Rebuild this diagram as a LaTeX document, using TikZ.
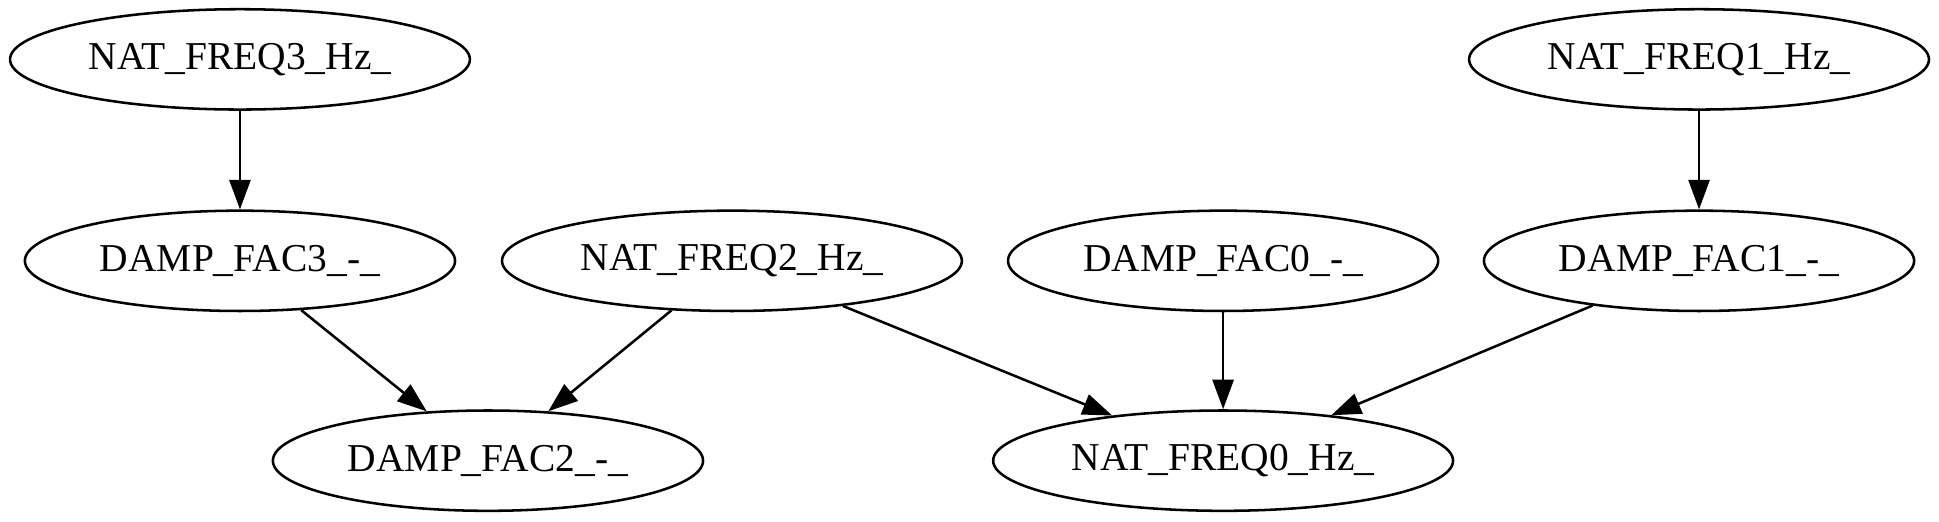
\documentclass[tikz,border=0pt]{standalone}
\usepackage{fontspec}
\setmainfont{Liberation Serif}
\usetikzlibrary{shapes.geometric,arrows.meta}
\tikzset{
  varnode/.style={draw,ellipse,line width=0.9pt,inner sep=0pt,minimum height=1.25cm,font=\fontsize{14}{17}\selectfont},
  freqnode/.style={varnode,minimum width=5.73cm},
  dampnode/.style={varnode,minimum width=5.36cm},
  link/.style={line width=0.9pt,-{Triangle[length=10.5pt,width=7.5pt]}}
}
\begin{document}
\begin{tikzpicture}[x=1cm,y=1cm]
\path[use as bounding box] (0,0) rectangle (24.16,6.50);
\node[freqnode] (nf3) at (2.99,5.76) {NAT\_FREQ3\_Hz\_};
\node[freqnode] (nf1) at (21.17,5.76) {NAT\_FREQ1\_Hz\_};
\node[dampnode] (df3) at (2.99,3.25) {DAMP\_FAC3\_-\_};
\node[freqnode] (nf2) at (9.12,3.25) {NAT\_FREQ2\_Hz\_};
\node[dampnode] (df0) at (15.24,3.25) {DAMP\_FAC0\_-\_};
\node[dampnode] (df1) at (21.17,3.25) {DAMP\_FAC1\_-\_};
\node[dampnode] (df2) at (6.08,0.76) {DAMP\_FAC2\_-\_};
\node[freqnode] (nf0) at (15.24,0.76) {NAT\_FREQ0\_Hz\_};
\draw[link] (nf3) -- (df3);
\draw[link] (nf1) -- (df1);
\draw[link] (df3) -- (df2);
\draw[link] (nf2) -- (df2);
\draw[link] (nf2) -- (nf0);
\draw[link] (df0) -- (nf0);
\draw[link] (df1) -- (nf0);
\end{tikzpicture}
\end{document}
